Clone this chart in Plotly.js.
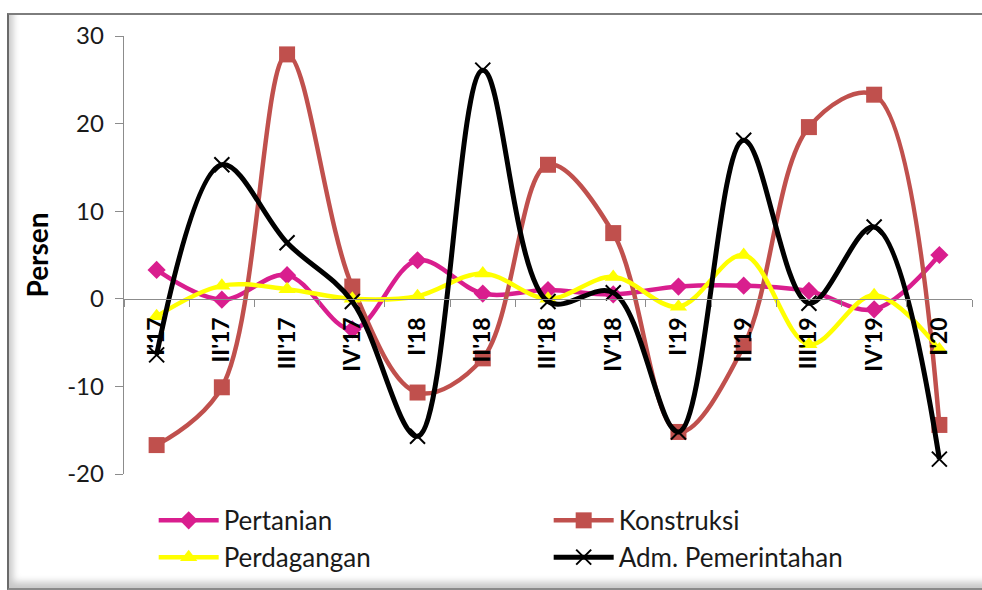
<!DOCTYPE html>
<html>
<head>
<meta charset="utf-8">
<script src="https://cdn.plot.ly/plotly-3.0.1.min.js"></script>
<style>
  html, body { margin: 0; padding: 0; background: #ffffff; }
  #frame {
    position: absolute; left: 7px; top: 13px; width: 980px; height: 577px;
    box-sizing: border-box;
    border-top: 2px solid #7d7d7d;
    border-left: 2px solid #6a6a6a;
    border-bottom: 2px solid #8a8a8a;
    box-shadow: inset 7px -9px 7px -3px rgba(0,0,0,0.22);
    background: #ffffff;
  }
  #chart { position: absolute; left: 0; top: 0; width: 982px; height: 590px; }
</style>
</head>
<body>
<div id="frame"></div>
<div id="chart"></div>
<script>
// Quarterly growth by sector (percent)
const quarters = ["I'17", "II'17", "III'17", "IV'17", "I'18", "II'18", "III'18", "IV'18",
                  "I'19", "II'19", "III'19", "IV'19", "I'20"];
const pertanian   = [3.3, -0.1, 2.7, -3.5, 4.4, 0.6, 1.0, 0.5, 1.4, 1.5, 0.9, -1.2, 5.0];
const konstruksi  = [-16.7, -10.1, 27.9, 1.4, -10.7, -6.8, 15.3, 7.5, -15.2, -5.4, 19.6, 23.3, -14.4];
const perdagangan = [-2.0, 1.5, 1.1, 0.0, 0.3, 2.9, 0.0, 2.5, -0.9, 5.0, -5.2, 0.4, -5.8];
const admPemerintahan = [-6.4, 15.3, 6.4, -0.3, -15.7, 26.1, -0.3, 0.7, -15.2, 18.1, -0.5, 8.2, -18.3];
const yTicks = [-20, -10, 0, 10, 20, 30];

function series(name, values, color, width, symbol, size, extra) {
  return Object.assign({
    type: 'scatter', mode: 'lines+markers', name: name,
    x: quarters, y: values,
    line: { color: color, width: width, shape: 'spline', smoothing: 1 },
    marker: { symbol: symbol, size: size, color: color }
  }, extra || {});
}

const traces = [
  series('Pertanian', pertanian, '#D91E8E', 4.5, 'diamond', 14),
  series('Konstruksi', konstruksi, '#C0504D', 4.5, 'square', 16),
  series('Perdagangan', perdagangan, '#FFFF00', 4.5, 'triangle-up', 15),
  series('Adm. Pemerintahan', admPemerintahan, '#000000', 5, 'x-thin', 15,
         { marker: { symbol: 'x-thin', size: 15, color: '#000000', line: { color: '#000000', width: 2 } } })
];

const layout = {
  width: 982, height: 590,
  margin: { l: 124, r: 10, t: 36, b: 115 },
  paper_bgcolor: 'rgba(0,0,0,0)',
  plot_bgcolor: 'rgba(0,0,0,0)',
  font: { family: 'Lato, "Liberation Sans", sans-serif', color: '#1a1a1a' },
  showlegend: true,
  legend: {
    orientation: 'h', x: 0.035, xanchor: 'left', y: -0.05, yanchor: 'top',
    entrywidth: 320, entrywidthmode: 'pixels',
    font: { size: 26, color: '#1a1a1a' },
    itemwidth: 60, tracegroupgap: 0, bgcolor: 'rgba(0,0,0,0)'
  },
  xaxis: {
    type: 'category', range: [-0.5, quarters.length - 0.5],
    anchor: 'free', position: 0.4,
    showline: true, linecolor: '#8c8c8c', linewidth: 1.3,
    ticks: 'outside', tickson: 'boundaries', ticklen: 7, tickcolor: '#8c8c8c',
    ticklabelstandoff: 8,
    tickangle: -90, tickfont: { size: 23, color: '#000000', weight: 'bold' },
    showgrid: false, zeroline: false, automargin: false, fixedrange: true
  },
  yaxis: {
    range: [-20, 30], tickvals: yTicks, ticktext: yTicks.map(String),
    showline: true, linecolor: '#8c8c8c', linewidth: 1.3,
    ticks: 'outside', ticklen: 8, tickcolor: '#8c8c8c',
    ticklabelstandoff: 6,
    tickfont: { size: 24, color: '#1a1a1a' },
    showgrid: false, zeroline: false, automargin: false,
    title: { text: 'Persen', font: { size: 28, color: '#000000', weight: 'bold' }, standoff: 10 }
  }
};

Plotly.newPlot('chart', traces, layout, { staticPlot: true });
</script>
</body>
</html>
